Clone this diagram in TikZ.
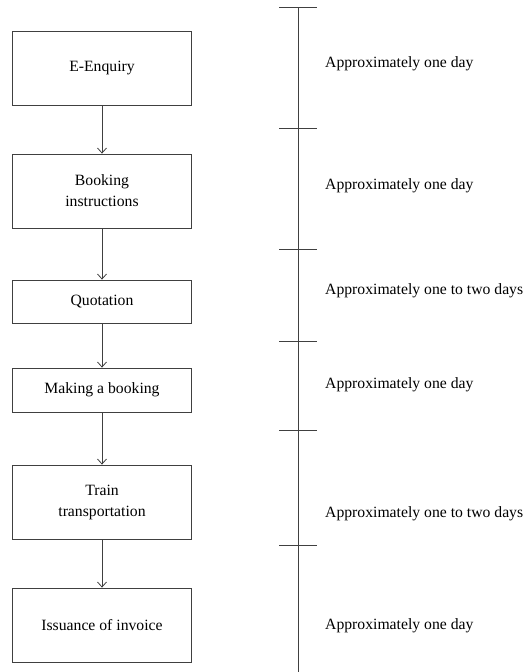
\documentclass[tikz,border=0pt]{standalone}
\usepackage{fontspec}
\setmainfont{Liberation Serif}
\usetikzlibrary{arrows.meta}
\begin{document}
\begin{tikzpicture}[x=1pt,y=-1pt,
  ink/.style={draw=black!75,line width=0.8pt},
  stepbox/.style={ink,minimum width=179pt,inner sep=0pt,align=center,font=\fontsize{15.7}{21}\selectfont},
  flow/.style={ink,-{Straight Barb[length=5pt,width=9pt]}},
  span/.style={anchor=west,inner sep=0pt,font=\fontsize{15.7}{21}\selectfont},
  tick/.style={ink}]
\useasboundingbox (0,0) rectangle (531,672);
% process steps
\node[stepbox,minimum height=74pt] (s1) at (102,68) {E-Enquiry};
\node[stepbox,minimum height=74pt] (s2) at (102,191) {Booking\\instructions};
\node[stepbox,minimum height=43pt] (s3) at (102,301.5) {Quotation};
\node[stepbox,minimum height=44pt] (s4) at (102,390) {Making a booking};
\node[stepbox,minimum height=74pt] (s5) at (102,502) {Train\\transportation};
\node[stepbox,minimum height=74pt] (s6) at (102,625) {Issuance of invoice};
\foreach \a/\b in {s1/s2,s2/s3,s3/s4,s4/s5,s5/s6}
  \draw[flow] (\a) -- (\b);
% time scale
\coordinate (t0) at (298,7);
\coordinate (tend) at (298,672);
\draw[ink] (t0) -- (tend);
\foreach \y in {7,128,249,341,430,545}
  \draw[tick] (279,\y) -- (317,\y);
\node[span] (d1) at (325,64) {Approximately one day};
\node[span] (d2) at (325,186) {Approximately one day};
\node[span] (d3) at (325,291) {Approximately one to two days};
\node[span] (d4) at (325,385) {Approximately one day};
\node[span] (d5) at (325,514) {Approximately one to two days};
\node[span] (d6) at (325,626) {Approximately one day};
\end{tikzpicture}
\end{document}
